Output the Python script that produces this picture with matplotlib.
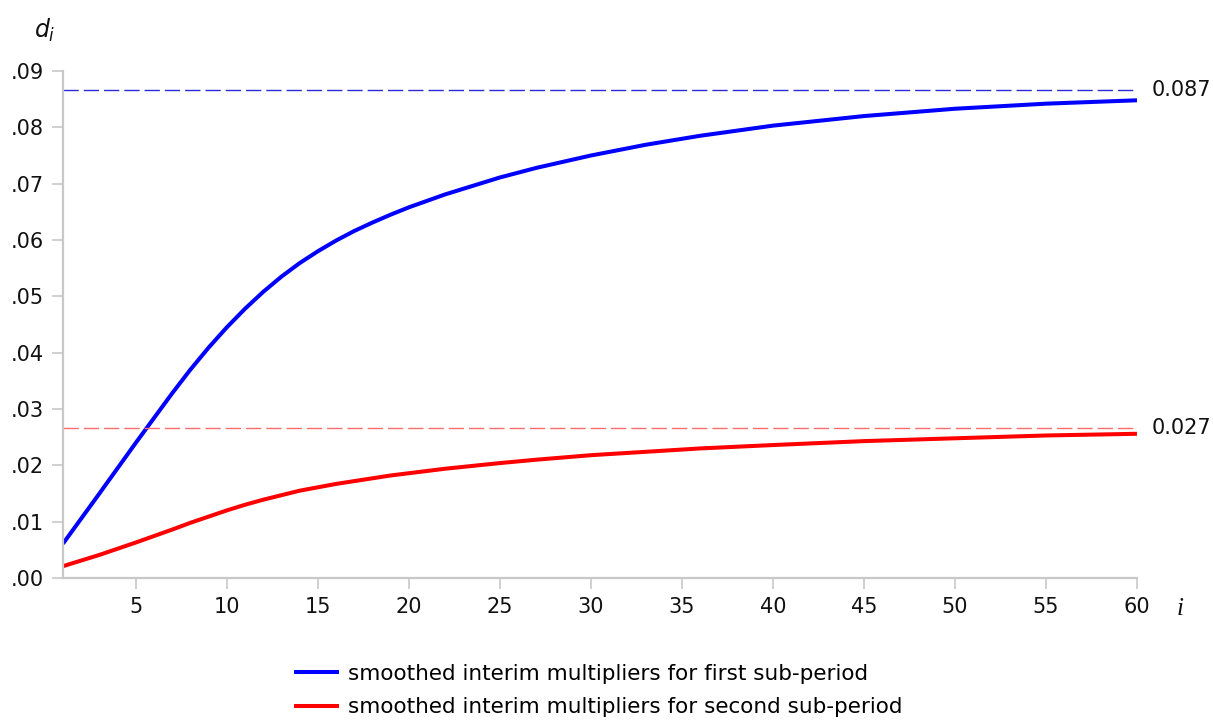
import matplotlib
matplotlib.use("Agg")
import matplotlib.pyplot as plt
from matplotlib.ticker import FuncFormatter

# Data
lags = [1, 3, 5, 7, 8, 9, 10, 11, 12, 13, 14, 15, 16, 17, 18, 19, 20, 22, 25, 27,
        30, 33, 36, 40, 45, 50, 55, 60]
first_sub = [0.0061, 0.0150, 0.0240, 0.0328, 0.0370, 0.0409, 0.0445, 0.0478, 0.0508,
             0.0535, 0.0559, 0.0580, 0.0599, 0.0616, 0.0631, 0.0645, 0.0658, 0.0681,
             0.0711, 0.0728, 0.0750, 0.0769, 0.0785, 0.0803, 0.0820, 0.0833, 0.0842,
             0.0848]
second_sub = [0.0021, 0.0041, 0.0063, 0.0086, 0.0098, 0.0109, 0.0120, 0.0130, 0.0139,
              0.0147, 0.0155, 0.0161, 0.0167, 0.0172, 0.0177, 0.0182, 0.0186, 0.0194,
              0.0204, 0.0210, 0.0218, 0.0224, 0.0230, 0.0236, 0.0243, 0.0248, 0.0253,
              0.0256]
long_run_first = 0.0867
long_run_second = 0.0267
long_run_labels = ["0.087", "0.027"]
x_ticks = [5, 10, 15, 20, 25, 30, 35, 40, 45, 50, 55, 60]
y_ticks = [0.00, 0.01, 0.02, 0.03, 0.04, 0.05, 0.06, 0.07, 0.08, 0.09]
series_labels = ["smoothed interim multipliers for first sub-period",
                 "smoothed interim multipliers for second sub-period"]

plt.rcParams['font.family'] = ['DejaVu Sans']
plt.rcParams['mathtext.fontset'] = 'dejavusans'

fig = plt.figure(figsize=(12.13, 7.2), dpi=100)
ax = fig.add_axes([63 / 1213, 1 - 578 / 720, (1137 - 63) / 1213, (578 - 71) / 720])

l1, = ax.plot(lags, first_sub, color='#0000ff', lw=2.9, solid_capstyle='butt',
              solid_joinstyle='round', label=series_labels[0])
l2, = ax.plot(lags, second_sub, color='#ff0000', lw=2.9, solid_capstyle='butt',
              solid_joinstyle='round', label=series_labels[1])

ax.plot([lags[0], lags[-1]], [long_run_first, long_run_first], color='#2a2ad8',
        lw=1.0, dashes=(11, 3.6))
ax.plot([lags[0], lags[-1]], [long_run_second, long_run_second], color='#ff6b6b',
        lw=1.0, dashes=(11, 3.6))

ax.text(1.014, long_run_first, long_run_labels[0], transform=ax.get_yaxis_transform(),
        va='center', ha='left', fontsize=15, color='#111111')
ax.text(1.014, long_run_second, long_run_labels[1], transform=ax.get_yaxis_transform(),
        va='center', ha='left', fontsize=15, color='#111111')

ax.set_xlim(1, 60)
ax.set_ylim(0, 0.09)
ax.set_xticks(x_ticks)
ax.set_yticks(y_ticks)
ax.yaxis.set_major_formatter(FuncFormatter(lambda v, p: f"{v:.2f}".lstrip('0')))

for s in ['top', 'right']:
    ax.spines[s].set_visible(False)
for s in ['left', 'bottom']:
    ax.spines[s].set_color('#c8c8c8')
    ax.spines[s].set_linewidth(1.6)
ax.tick_params(axis='both', direction='out', length=8, width=1.2, color='#c8c8c8',
               labelsize=15, labelcolor='#111111', pad=6)

fig.text(45 / 1213, 1 - 30 / 720, r'$d_i$', fontsize=17, ha='center', va='center',
         color='#111111')
fig.text(1180 / 1213, 1 - 609 / 720, 'i', fontsize=18, ha='center', va='center',
         family='Liberation Serif', style='italic', color='#111111')

fig.legend(handles=[l1, l2], loc='center', bbox_to_anchor=(0.493, 0.041),
           frameon=False, fontsize=15.5, handlelength=2.1, handletextpad=0.4,
           labelspacing=0.62, borderpad=0.2)

fig.savefig('out.png', dpi=100)
